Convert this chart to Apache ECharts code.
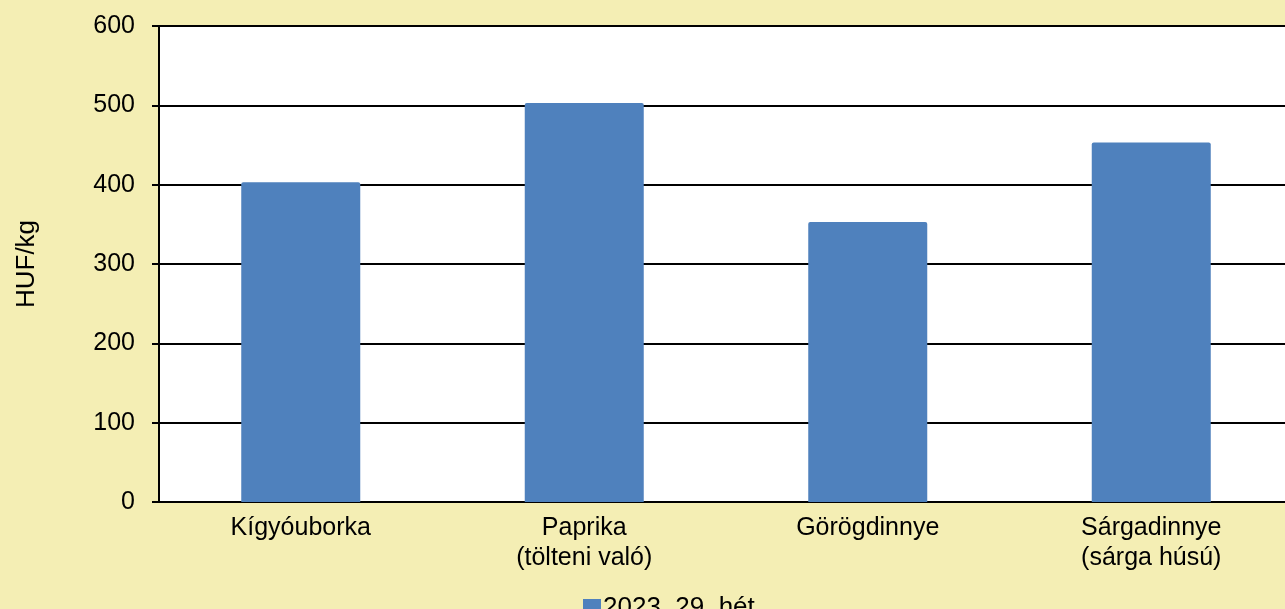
<!DOCTYPE html>
<html>
<head>
<meta charset="utf-8">
<script src="https://cdn.jsdelivr.net/npm/echarts@6/dist/echarts.min.js"></script>
<style>
html,body{margin:0;padding:0;background:#F4EEB4;}
#c{width:1285px;height:609px;}
</style>
</head>
<body>
<div id="c"></div>
<script>
const categories = ['Kígyóuborka', 'Paprika\n(tölteni való)', 'Görögdinnye', 'Sárgadinnye\n(sárga húsú)'];
const seriesName = '2023. 29. hét';
const values = [403, 503, 353, 453];
const yAxisName = 'HUF/kg';

const chart = echarts.init(document.getElementById('c'));
chart.setOption({
  backgroundColor: '#F4EEB4',
  animation: false,
  textStyle: { fontFamily: 'Liberation Sans, Arial, sans-serif' },
  grid: { left: 159, width: 1134, top: 26, height: 476, outerBoundsMode: 'none', containLabel: false, backgroundColor: '#FFFFFF', show: true, borderWidth: 0 },
  legend: {
    data: [seriesName],
    left: 578, top: 590,
    icon: 'rect', itemWidth: 18, itemHeight: 18, itemGap: 10,
    textStyle: { fontSize: 26, color: '#000', padding: [0,0,0,-3] }
  },
  xAxis: {
    type: 'category',
    data: categories,
    axisLine: { lineStyle: { color: '#000', width: 2 } },
    axisTick: { show: false },
    axisLabel: { color: '#000', fontSize: 25, lineHeight: 30, margin: 11 }
  },
  yAxis: {
    type: 'value',
    min: 0, max: 600, interval: 100,
    name: yAxisName,
    nameLocation: 'middle',
    nameGap: 119,
    nameRotate: 90,
    nameTextStyle: { color: '#000', fontSize: 26 },
    axisLine: { show: true, lineStyle: { color: '#000', width: 2 } },
    axisTick: { show: true, length: 7, lineStyle: { color: '#000', width: 2 } },
    axisLabel: { color: '#000', fontSize: 25, margin: 24 },
    splitLine: { lineStyle: { color: '#000', width: 2 } }
  },
  series: [{
    name: seriesName,
    type: 'bar',
    data: values,
    barWidth: 119,
    itemStyle: { color: '#4F81BD', borderRadius: [2,2,0,0] }
  }]
});
</script>
</body>
</html>
